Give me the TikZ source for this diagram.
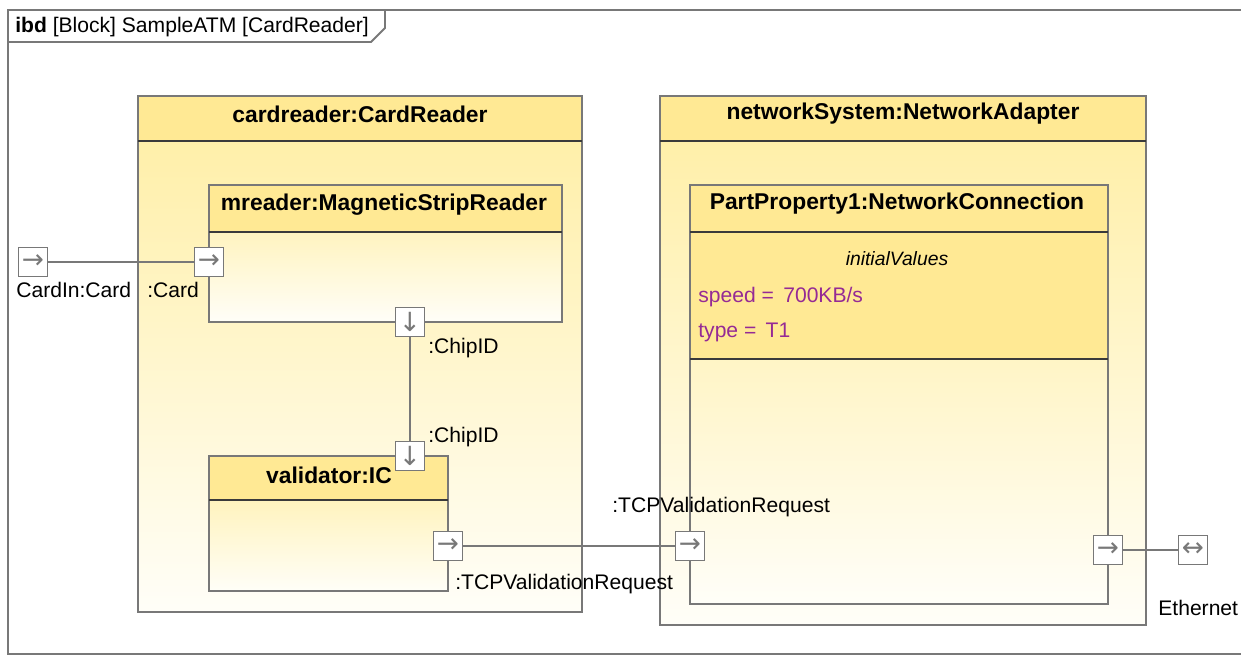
\documentclass[tikz,border=0pt]{standalone}
\usepackage{fontspec}
\setmainfont{Liberation Sans}
\newfontfamily\arrowfont{DejaVu Sans}
\usepackage{xcolor}
\usetikzlibrary{positioning}

\definecolor{hdrfill}{HTML}{FFE994}
\definecolor{bodytop}{HTML}{FFEEA2}
\definecolor{bodybot}{HTML}{FFFEF8}
\definecolor{edgegray}{HTML}{787878}
\definecolor{sepgray}{HTML}{3A3A3A}
\definecolor{valpurple}{HTML}{952A95}

\tikzset{
  frameline/.style={draw=edgegray, line width=1.1pt},
  partbody/.style={draw=edgegray, line width=1.1pt, top color=bodytop, bottom color=bodybot},
  parthead/.style={draw=edgegray, line width=1.1pt, fill=hdrfill},
  sepline/.style={draw=sepgray, line width=1.1pt},
  parttitle/.style={font=\fontsize{13}{15}\selectfont\bfseries, inner sep=0pt},
  portbox/.style={draw=edgegray, line width=1.1pt, fill=white, minimum size=0.58cm,
    inner sep=0pt, font=\arrowfont\fontsize{15}{16}\selectfont, text=edgegray},
  portlabel/.style={font=\fontsize{12}{14}\selectfont, inner sep=0pt, anchor=west},
  wire/.style={draw=edgegray, line width=1.1pt}
}

\begin{document}
\begin{tikzpicture}[x=0.02cm, y=-0.02cm]
\useasboundingbox (0,0) rectangle (1241,656);

% Diagram frame and its name tab
\draw[frameline] (1241,10) -- (8,10) -- (8,654) -- (1241,654);
\draw[frameline] (8,42) -- (371,42) -- (385,28) -- (385,10);
\node[portlabel] (frametitle) at (15,27) {\textbf{ibd} [Block] SampleATM [CardReader]};

% cardreader:CardReader
\path[partbody] (138,96) rectangle (582,612);
\path[parthead] (138,96) rectangle (582,141);
\draw[sepline] (138,141) -- (582,141);
\node[parttitle] (cardreader) at (360,114) {cardreader:CardReader};

% networkSystem:NetworkAdapter
\path[partbody] (660,96) rectangle (1146,625);
\path[parthead] (660,96) rectangle (1146,141);
\draw[sepline] (660,141) -- (1146,141);
\node[parttitle] (netsys) at (903,114) {networkSystem:NetworkAdapter};

% mreader:MagneticStripReader
\path[partbody] (209,185) rectangle (562,322);
\path[parthead] (209,185) rectangle (562,232);
\draw[sepline] (209,232) -- (562,232);
\node[parttitle] (mreader) at (384,205) {mreader:MagneticStripReader};

% validator:IC
\path[partbody] (209,456) rectangle (448,591);
\path[parthead] (209,456) rectangle (448,500);
\draw[sepline] (209,500) -- (448,500);
\node[parttitle] (validator) at (329,475) {validator:IC};

% PartProperty1:NetworkConnection
\path[partbody] (690,185) rectangle (1108,604);
\path[parthead] (690,185) rectangle (1108,232);
\path[draw=edgegray, line width=1.1pt, fill=hdrfill] (690,232) rectangle (1108,359);
\draw[sepline] (690,232) -- (1108,232);
\draw[sepline] (690,359) -- (1108,359);
\node[parttitle] (pp1) at (897,204) {PartProperty1:NetworkConnection};
\node[font=\fontsize{11}{13}\selectfont\itshape, inner sep=0pt] (initvals) at (897,259) {initialValues};
\node[portlabel, text=valpurple] (speed) at (698,297) {speed =\, 700KB/s};
\node[portlabel, text=valpurple] (type) at (698,332) {type =\, T1};

% Ports
\node[portbox] (cardin) at (33,262) {→};
\node[portbox] (card) at (209,262) {→};
\node[portbox] (chipout) at (410,322) {↓};
\node[portbox] (chipin) at (410,456) {↓};
\node[portbox] (tcpout) at (448,546) {→};
\node[portbox] (tcpin) at (690,546) {→};
\node[portbox] (ppeth) at (1108,550) {→};
\node[portbox] (ethernet) at (1193,550) {↔};

% Port labels
\node[portlabel] (cardinlbl) at (16,290) {CardIn:Card};
\node[portlabel] (cardlbl) at (147,290) {:Card};
\node[portlabel] (chipoutlbl) at (428,348) {:ChipID};
\node[portlabel] (chipinlbl) at (428,437) {:ChipID};
\node[portlabel] (tcpoutlbl) at (455,584) {:TCPValidationRequest};
\node[portlabel] (tcpinlbl) at (612,507) {:TCPValidationRequest};
\node[portlabel] (ethlbl) at (1158,608) {Ethernet};

% Connectors
\draw[wire] (cardin) -- (card);
\draw[wire] (chipout) -- (chipin);
\draw[wire] (tcpout) -- (tcpin);
\draw[wire] (ppeth) -- (ethernet);

\end{tikzpicture}
\end{document}
